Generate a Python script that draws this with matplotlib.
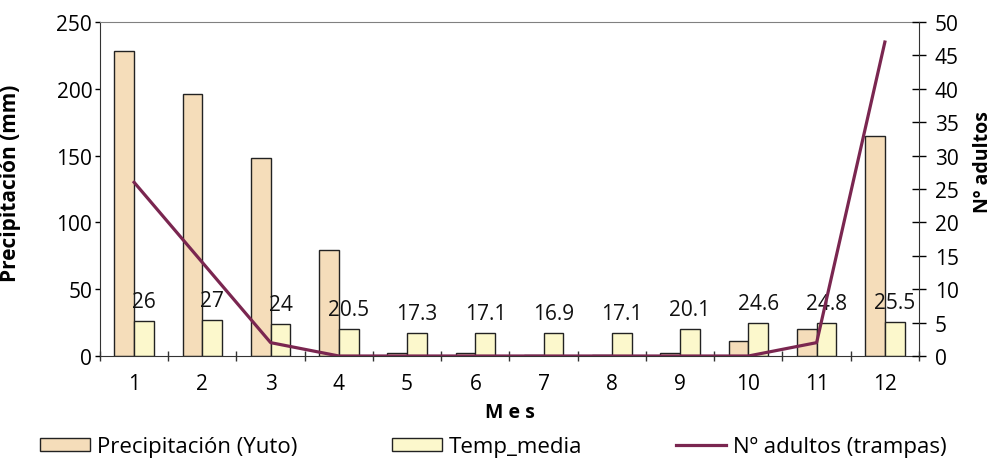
import numpy as np
import matplotlib
matplotlib.use('Agg')
import matplotlib.pyplot as plt
from matplotlib.patches import Patch
from matplotlib.lines import Line2D
from matplotlib.ticker import FixedLocator

plt.rcParams['font.family'] = ['Open Sans', 'DejaVu Sans']

# Monthly data
meses = ['1', '2', '3', '4', '5', '6', '7', '8', '9', '10', '11', '12']
precipitacion = [228, 196, 148, 79, 2, 2, 1, 1, 2.5, 11, 20, 164.5]
temp_media = [26, 27, 24, 20.5, 17.3, 17.1, 16.9, 17.1, 20.1, 24.6, 24.8, 25.5]
adultos = [26, 14, 2, 0, 0, 0, 0, 0, 0, 0, 2, 47]

color_prec = '#F5DDBA'
color_temp = '#FCF8CC'
color_line = '#7A2650'
edge = '#222222'

fig = plt.figure(figsize=(9.95, 4.6), dpi=100)
ax = fig.add_axes([100 / 995, 1 - 357 / 460, 819 / 995, 334 / 460])

x = np.arange(len(meses))
w = 0.29
ax.bar(x - w / 2, precipitacion, w, color=color_prec, edgecolor=edge, linewidth=1, zorder=2)
ax.bar(x + w / 2, temp_media, w, color=color_temp, edgecolor=edge, linewidth=1, zorder=2)

# value labels above the temperature bars
for xi, t in zip(x, temp_media):
    ax.annotate(f'{t:g}', (xi + w / 2, t), xytext=(0, 14), textcoords='offset points',
                ha='center', va='center', fontsize=15, color='#111111')

ax.set_xlim(-0.5, len(meses) - 0.5)
ax.set_ylim(0, 250)
ax.set_yticks(range(0, 251, 50))
ax.set_xticks(x)
ax.set_xticklabels(meses)
ax.xaxis.set_minor_locator(FixedLocator(np.arange(-0.5, len(meses), 1)))
ax.tick_params(axis='x', which='major', length=0, pad=12, labelsize=15)
ax.tick_params(axis='x', which='minor', direction='inout', length=7, width=1, color='#333333')
ax.tick_params(axis='y', direction='out', length=3.6, width=1, pad=2, labelsize=15)

ax.set_xlabel('M e s', fontsize=14, fontweight='bold', labelpad=6)
ax.set_ylabel('Precipitación (mm)', fontsize=15, fontweight='bold')
ax.yaxis.set_label_coords(-0.097, 0.52)

ax.spines['top'].set_color('#808080')
for s in ['left', 'bottom']:
    ax.spines[s].set_color('#333333')
ax.spines['right'].set_visible(False)

ax2 = ax.twinx()
ax2.plot(x, adultos, color=color_line, linewidth=2.3, zorder=3)
ax2.set_ylim(0, 50)
ax2.set_yticks(range(0, 51, 5))
ax2.tick_params(axis='y', direction='inout', length=10, width=1, pad=6.5, labelsize=15)
ax2.set_ylabel('Nº adultos', fontsize=14, fontweight='bold')
ax2.yaxis.set_label_coords(1.066, 0.585)
ax2.spines['right'].set_color('#333333')
ax2.spines['top'].set_visible(False)
ax2.spines['left'].set_visible(False)
ax2.spines['bottom'].set_visible(False)

handles = [
    Patch(facecolor=color_prec, edgecolor=edge, linewidth=1),
    Patch(facecolor=color_temp, edgecolor=edge, linewidth=1),
    Line2D([0], [0], color=color_line, linewidth=2.3),
]
labels = ['Precipitación (Yuto)', 'Temp_media', 'Nº adultos (trampas)']
fig.legend(handles, labels, loc='center', bbox_to_anchor=(0.496, 0.027), ncol=3,
           frameon=False, fontsize=16, handlelength=2.25, handleheight=0.55,
           handletextpad=0.3, columnspacing=4.25, borderpad=0)

fig.savefig('out.png', dpi=100)
